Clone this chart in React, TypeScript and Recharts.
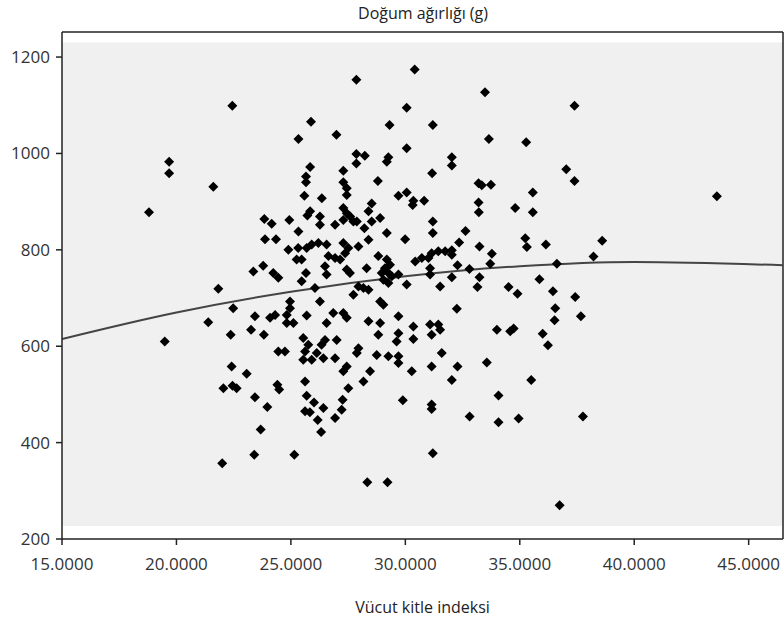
import React from "react";
import {
  ComposedChart,
  Scatter,
  Line,
  XAxis,
  YAxis,
  ReferenceArea,
  ReferenceLine,
} from "recharts";

// Vücut kitle indeksi (x) values of each case
const bmi = [
  22.44, 27.86, 30.41, 30.06, 25.88, 25.33, 26.99, 29.31, 31.2, 30.06, 27.86, 28.23, 27.86, 29.26, 29.19,
  25.84, 27.29, 25.66, 25.66, 31.17, 21.61, 27.29, 27.44, 27.44, 28.8, 25.59, 26.35, 29.7, 30.06, 30.35,
  30.32, 30.82, 28.53, 28.39, 28.53, 25.84, 25.72, 27.29, 27.44, 27.29, 27.59, 27.73, 28.9, 23.84, 24.16,
  24.93, 26.27, 26.27, 26.93, 27.88, 28.21, 29.19, 29.99, 31.2, 31.2, 25.33, 23.87, 24.35, 28.39,
  24.89, 25.32, 25.69, 25.91, 26.2, 26.56, 25.25, 25.47, 23.36, 23.79, 24.23, 24.45, 21.83, 25.66, 25.47,
  26.05, 26.49, 26.56, 26.64, 26.93, 22.48, 21.39, 24.96, 24.96, 24.82, 26.27, 25.69, 23.43, 24.09, 24.31,
  26.85, 26.56, 24.82, 25.11,
  27.29, 27.51, 27.37, 27.15, 27.95, 28.82, 29.19, 29.33, 29.11, 28.97, 29.26, 29.41, 29.04, 29.26, 28.31,
  29.7, 30.43, 30.72, 31.01, 31.15, 31.44, 31.74, 31.08, 31.08, 31.52, 30.06, 27.73, 27.95, 28.17, 28.39,
  27.44, 27.58, 28.9, 29.04, 29.7, 27.29, 27.44, 28.39, 28.9, 31.08, 31.44, 30.35,
  22.37, 23.26, 23.82, 24.45, 24.74, 25.54, 25.76, 25.62, 25.54, 25.91, 26.13, 26.34, 26.49, 26.42, 26.93,
  27.0, 22.41, 23.07, 22.05, 22.45, 22.63, 24.41, 24.49, 23.43, 23.97, 25.62, 25.69, 26.01, 25.62, 25.83,
  26.42, 26.17, 26.32, 26.93, 23.68, 23.4, 25.15, 22.0,
  28.82, 29.7, 29.62, 30.35, 31.15, 31.52, 27.95, 27.88, 28.75, 29.26, 29.7, 29.7, 31.59, 27.44, 27.29,
  28.46, 28.17, 30.28, 31.15, 27.51, 27.26, 27.22, 29.89, 31.15, 31.15, 31.2, 28.34, 29.22,
  33.48, 37.39, 33.65, 35.28, 32.03, 32.03, 37.03, 37.39, 33.2, 33.34, 33.74, 35.57, 43.61, 33.2, 33.21,
  34.8, 35.57, 32.63, 32.35, 33.24, 32.03, 32.03, 33.78, 33.71, 35.24, 35.31, 36.14, 38.6, 38.22, 32.28,
  32.8, 36.62, 32.03, 33.24, 33.15, 34.51, 34.9, 35.86, 36.45, 37.42, 32.25, 36.55, 36.52, 37.67, 34.0,
  34.58, 34.73, 36.0, 36.23, 32.28, 32.03, 33.56, 35.5, 34.07, 32.81, 34.07, 34.95, 37.76, 36.74,
  18.8, 19.68, 19.68, 19.49,
];

// Doğum ağırlığı (g) values of each case, same order as bmi
const birthWeight = [
  1099, 1153, 1174, 1095, 1066, 1030, 1039, 1059, 1059, 1011, 999, 995, 979, 992, 983,
  972, 964, 952, 940, 959, 931, 940, 928, 914, 943, 912, 907, 912, 919, 902,
  893, 902, 896, 880, 859, 880, 871, 887, 876, 862, 869, 859, 866, 864, 854,
  862, 869, 852, 852, 859, 845, 835, 822, 859, 835, 838, 822, 822, 821,
  800, 804, 804, 811, 814, 811, 780, 780, 755, 767, 752, 742, 719, 752, 735,
  721, 766, 749, 787, 783, 679, 650, 693, 679, 665, 693, 664, 662, 659, 665,
  669, 648, 648, 648,
  814, 804, 793, 780, 807, 787, 780, 769, 762, 752, 752, 745, 738, 731, 762,
  749, 776, 783, 783, 793, 797, 797, 762, 749, 724, 728, 707, 724, 721, 717,
  759, 752, 693, 686, 662, 669, 659, 652, 648, 645, 645, 641,
  624, 634, 624, 589, 589, 617, 603, 589, 572, 572, 586, 603, 613, 575, 575,
  613, 558, 543, 513, 518, 513, 520, 510, 494, 474, 527, 497, 483, 465, 463,
  472, 447, 422, 451, 427, 375, 375, 357,
  624, 627, 610, 615, 624, 634, 596, 586, 582, 579, 579, 565, 586, 558, 548,
  548, 527, 548, 558, 513, 489, 468, 488, 479, 470, 378, 318, 318,
  1127, 1099, 1030, 1023, 992, 975, 967, 943, 938, 934, 935, 919, 911, 898, 878,
  887, 878, 839, 815, 807, 799, 790, 792, 771, 824, 806, 811, 819, 786, 768,
  760, 771, 743, 743, 723, 723, 709, 739, 714, 702, 678, 679, 654, 662, 634,
  631, 637, 626, 602, 558, 530, 566, 530, 498, 454, 442, 450, 454, 270,
  878, 983, 959, 610,
];

// fitted quadratic curve
const fitBmi = [15, 20, 25, 30, 35, 40, 46.5];
const fitWeight = [615, 670, 713, 745, 766, 775, 768];

const xTicks = [15, 20, 25, 30, 35, 40, 45];
const yTicks = [200, 400, 600, 800, 1000, 1200];

const points = bmi.map((x, i) => ({ x, y: birthWeight[i] }));
const curve = fitBmi.map((x, i) => ({ x, y: fitWeight[i] }));

const FONT = "'Open Sans', sans-serif";
const tickStyle = { fill: "#333", fontSize: 17, fontFamily: FONT };

const Diamond = (props: any) => {
  const { cx, cy } = props;
  const r = 5;
  return (
    <path
      d={`M${cx},${cy - r}L${cx + r},${cy}L${cx},${cy + r}L${cx - r},${cy}Z`}
      fill="#000"
    />
  );
};

export default function App() {
  return (
    <div style={{ position: "relative", width: 784, height: 621 }}>
      <style>{"body{margin:0}"}</style>
      <div
        style={{
          position: "absolute",
          left: 62,
          width: 722,
          top: 2,
          textAlign: "center",
          fontFamily: FONT,
          fontSize: 16,
          color: "#222",
        }}
      >
        Doğum ağırlığı (g)
      </div>
      <ComposedChart
        width={784}
        height={621}
        margin={{ top: 32, right: 1, bottom: 0, left: 0 }}
      >
        <XAxis
          type="number"
          dataKey="x"
          domain={[15, 46.5]}
          ticks={xTicks}
          tickFormatter={(v: number) => v.toFixed(4)}
          tick={tickStyle}
          tickSize={6}
          tickMargin={13}
          height={82}
          axisLine={{ stroke: "#222", strokeWidth: 1.5 }}
          tickLine={{ stroke: "#222", strokeWidth: 1.5 }}
          allowDataOverflow
          label={{
            value: "Vücut kitle indeksi",
            position: "insideBottom",
            offset: 8,
            style: { fill: "#222", fontSize: 16, fontFamily: FONT },
          }}
        />
        <YAxis
          type="number"
          dataKey="y"
          domain={[200, 1252]}
          ticks={yTicks}
          tick={tickStyle}
          tickSize={6}
          tickMargin={6}
          width={62}
          axisLine={{ stroke: "#222", strokeWidth: 1.5 }}
          tickLine={{ stroke: "#222", strokeWidth: 1.5 }}
          allowDataOverflow
        />
        <ReferenceArea
          x1={15}
          x2={46.5}
          y1={227}
          y2={1230}
          fill="#f0f0f0"
          fillOpacity={1}
          stroke="none"
        />
        <ReferenceLine y={1252} stroke="#222" strokeWidth={1.5} />
        <ReferenceLine x={46.5} stroke="#222" strokeWidth={1.5} />
        <Scatter
          data={points}
          dataKey="y"
          shape={<Diamond />}
          isAnimationActive={false}
        />
        <Line
          data={curve}
          dataKey="y"
          type="monotone"
          stroke="#444"
          strokeWidth={2}
          dot={false}
          activeDot={false}
          isAnimationActive={false}
        />
      </ComposedChart>
    </div>
  );
}
